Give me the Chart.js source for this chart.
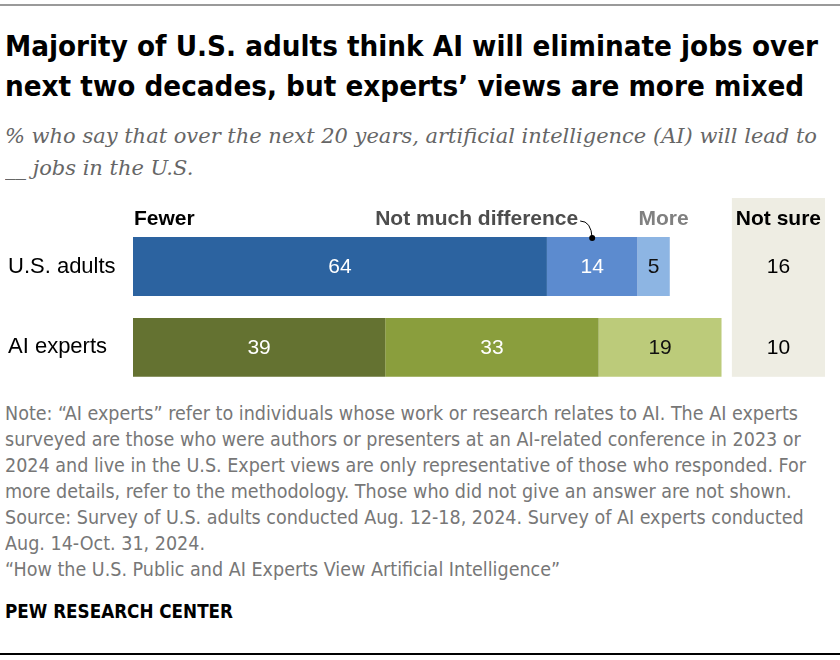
<!DOCTYPE html>
<html>
<head>
<meta charset="utf-8">
<script src="https://cdn.jsdelivr.net/npm/chart.js@4/dist/chart.umd.min.js"></script>
<style>
  html, body { margin: 0; padding: 0; background: #fff; }
  #page { position: relative; width: 840px; height: 660px; overflow: hidden; }
  .ln { position: absolute; white-space: nowrap; line-height: 1; left: 5px; transform-origin: 0 0; }
  .title { font-family: 'DejaVu Sans Condensed', 'Liberation Sans', Arial, sans-serif; font-weight: bold; font-size: 28px; color: #000; }
  .sub { font-family: 'DejaVu Serif', Georgia, serif; font-style: italic; font-size: 20px; color: #666; }
  .note { font-family: 'DejaVu Sans Condensed', 'Liberation Sans', Arial, sans-serif; font-size: 19px; color: #777; }
  .pew { font-family: 'DejaVu Sans Condensed', 'Liberation Sans', Arial, sans-serif; font-weight: bold; font-size: 19px; color: #000; }
  #topline { position: absolute; left: 0; top: 4px; width: 840px; height: 2px; background: #9a9a9a; }
  #botline { position: absolute; left: 0; top: 653px; width: 840px; height: 1.5px; background: #000; }
  #chartbox { position: absolute; left: 0; top: 195px; width: 840px; height: 206px; }
</style>
</head>
<body>
<div id="page">
  <div id="topline"></div>
  <div class="ln title" data-g="title" style="top:33px">Majority of U.S. adults think AI will eliminate jobs over</div>
  <div class="ln title" data-g="title" style="top:73px">next two decades, but experts’ views are more mixed</div>
  <div class="ln sub" data-g="sub" style="top:126px">% who say that over the next 20 years, artificial intelligence (AI) will lead to</div>
  <div class="ln sub" data-g="sub" style="top:158px">__ jobs in the U.S.</div>
  <div id="chartbox"><canvas id="c"></canvas></div>
  <div class="ln note" data-g="note" style="top:404px">Note: “AI experts” refer to individuals whose work or research relates to AI. The AI experts</div>
  <div class="ln note" data-g="note" style="top:430px">surveyed are those who were authors or presenters at an AI-related conference in 2023 or</div>
  <div class="ln note" data-g="note" style="top:456px">2024 and live in the U.S. Expert views are only representative of those who responded. For</div>
  <div class="ln note" data-g="note" style="top:482px">more details, refer to the methodology. Those who did not give an answer are not shown.</div>
  <div class="ln note" data-g="note" style="top:508px">Source: Survey of U.S. adults conducted Aug. 12-18, 2024. Survey of AI experts conducted</div>
  <div class="ln note" data-g="note" style="top:534px">Aug. 14-Oct. 31, 2024.</div>
  <div class="ln note" data-g="note" style="top:560px">“How the U.S. Public and AI Experts View Artificial Intelligence”</div>
  <div class="ln pew" data-g="pew" style="top:602px">PEW RESEARCH CENTER</div>
  <div id="botline"></div>
</div>
<script>
const categories = ['U.S. adults', 'AI experts'];
const seriesNames = ['Fewer', 'Not much difference', 'More'];
const fewer = [64, 39];
const notMuch = [14, 33];
const more = [5, 19];
const notSure = [16, 10];
const notSureLabel = 'Not sure';

const colFewer = ['#2C63A0', '#647231'];
const colNotMuch = ['#5C8BCF', '#8A9E3D'];
const colMore = ['#8DB5E3', '#BCCB7A'];
const labelColors = ['#fff', '#fff', '#111'];
const headerColors = ['#000', '#4d4d4d', '#808080'];

const X_MAX = 107;
const NS_START = 92.6;

// fit text groups horizontally to the reference line widths
const groupWidths = { title: 813, sub: 812, note: 793, pew: 228 };
Object.keys(groupWidths).forEach(g => {
  const els = Array.from(document.querySelectorAll('[data-g="' + g + '"]'));
  const w = els[0].getBoundingClientRect().width;
  const s = groupWidths[g] / w;
  els.forEach(el => { el.style.transform = 'scaleX(' + s + ')'; });
});

const VALUE_FONT = '21px "Liberation Sans", Arial, sans-serif';
const HEAD_FONT = 'bold 21px "Liberation Sans", Arial, sans-serif';

const overlay = {
  id: 'overlay',
  beforeDatasetsDraw(chart) {
    const ctx = chart.ctx;
    const xs = chart.scales.x;
    const meta = chart.getDatasetMeta(0);
    const lastBar = meta.data[meta.data.length - 1];
    const x0 = xs.getPixelForValue(NS_START);
    const x1 = chart.chartArea.right;
    const yBottom = lastBar.y + lastBar.height / 2;
    ctx.save();
    ctx.fillStyle = '#EEEDE3';
    ctx.fillRect(x0, 3, x1 - x0, yBottom - 3);
    ctx.restore();
  },
  afterDatasetsDraw(chart) {
    const ctx = chart.ctx;
    const xs = chart.scales.x;
    ctx.save();
    chart.data.datasets.forEach((ds, di) => {
      const meta = chart.getDatasetMeta(di);
      meta.data.forEach((bar, i) => {
        const cx = (bar.x + bar.base) / 2;
        ctx.fillStyle = labelColors[di];
        ctx.font = VALUE_FONT;
        ctx.textAlign = 'center';
        ctx.textBaseline = 'middle';
        ctx.fillText(String(ds.data[i]), cx, bar.y + 1);
      });
    });
    const hy = 30;
    ctx.font = HEAD_FONT;
    ctx.textBaseline = 'alphabetic';
    const b0 = chart.getDatasetMeta(0).data[0];
    ctx.fillStyle = headerColors[0];
    ctx.textAlign = 'left';
    ctx.fillText(seriesNames[0], b0.base + 1, hy);
    const b1 = chart.getDatasetMeta(1).data[0];
    const c1 = (b1.x + b1.base) / 2;
    ctx.fillStyle = headerColors[1];
    ctx.textAlign = 'right';
    ctx.fillText(seriesNames[1], c1 - 14, hy);
    ctx.strokeStyle = '#000';
    ctx.lineWidth = 1;
    const dotY = b1.y - b1.height / 2 + 1;
    ctx.beginPath();
    ctx.moveTo(c1 - 12, hy - 4);
    ctx.quadraticCurveTo(c1 - 1, hy - 4, c1, dotY);
    ctx.stroke();
    ctx.fillStyle = '#000';
    ctx.beginPath();
    ctx.arc(c1, dotY, 3, 0, Math.PI * 2);
    ctx.fill();
    const b2 = chart.getDatasetMeta(2).data[0];
    ctx.fillStyle = headerColors[2];
    ctx.textAlign = 'left';
    ctx.fillText(seriesNames[2], b2.base + 1, hy);
    const nx = (xs.getPixelForValue(NS_START) + chart.chartArea.right) / 2;
    ctx.fillStyle = '#000';
    ctx.textAlign = 'center';
    ctx.fillText(notSureLabel, nx, hy);
    ctx.font = VALUE_FONT;
    ctx.textBaseline = 'middle';
    const m0 = chart.getDatasetMeta(0);
    notSure.forEach((v, i) => {
      ctx.fillText(String(v), nx, m0.data[i].y + 1);
    });
    ctx.restore();
  }
};

new Chart(document.getElementById('c'), {
  type: 'bar',
  data: {
    labels: categories,
    datasets: [
      { label: seriesNames[0], data: fewer, backgroundColor: colFewer },
      { label: seriesNames[1], data: notMuch, backgroundColor: colNotMuch },
      { label: seriesNames[2], data: more, backgroundColor: colMore }
    ]
  },
  options: {
    indexAxis: 'y',
    responsive: true,
    maintainAspectRatio: false,
    animation: false,
    barPercentage: 0.728,
    categoryPercentage: 1,
    layout: { padding: { left: 8, right: 15, top: 31, bottom: 7 } },
    plugins: { legend: { display: false }, tooltip: { enabled: false } },
    scales: {
      x: { stacked: true, display: false, min: 0, max: X_MAX },
      y: {
        stacked: true,
        grid: { display: false },
        border: { display: false },
        afterFit(scale) { scale.width = 125; },
        ticks: {
          crossAlign: 'far',
          padding: 0,
          color: '#000',
          font: { size: 22, family: '"Liberation Sans", Arial, sans-serif' }
        }
      }
    }
  },
  plugins: [overlay]
});
</script>
</body>
</html>
